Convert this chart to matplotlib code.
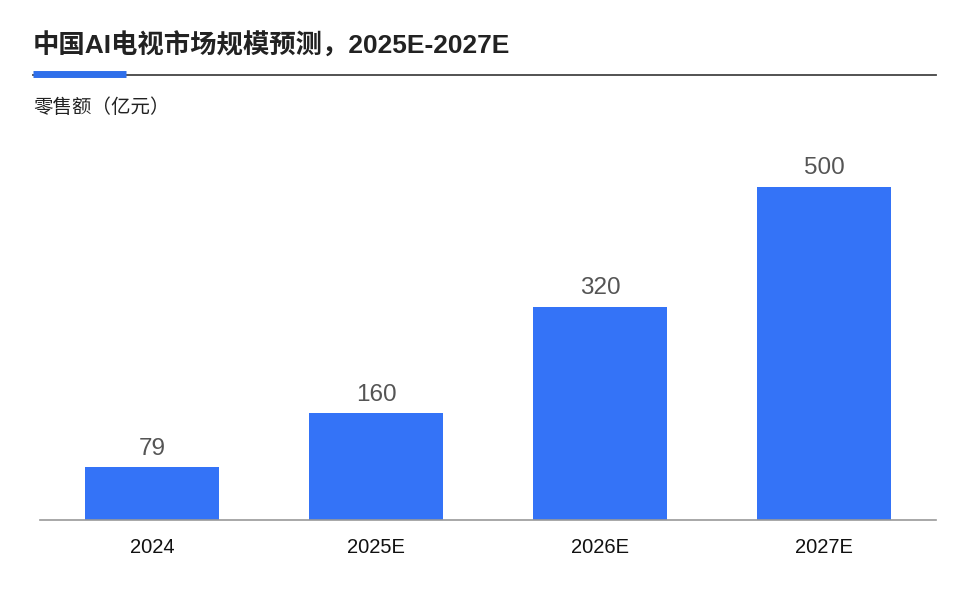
import matplotlib
matplotlib.use("Agg")
import matplotlib.pyplot as plt
from matplotlib.lines import Line2D

years = ['2024', '2025E', '2026E', '2027E']
sales = [79, 160, 320, 500]

title = '中国AI电视市场规模预测，2025E-2027E'
unit_label = '零售额（亿元）'

plt.rcParams['font.family'] = ['Liberation Sans', 'Noto Sans CJK SC', 'DejaVu Sans']

fig = plt.figure(figsize=(9.65, 5.99), dpi=100)
W, H = 965, 599

ax = fig.add_axes([40 / W, (H - 520) / H, 896 / W, 380 / H])
x = range(len(years))
bars = ax.bar(x, sales, width=0.6, color='#3473F7', zorder=2)
ax.set_xlim(-0.5, len(years) - 0.5)
ax.set_ylim(0, 570)

for b, v in zip(bars, sales):
    ax.annotate(str(v), (b.get_x() + b.get_width() / 2, v),
                xytext=(0, 5.5), textcoords='offset points',
                ha='center', va='bottom', fontsize=17.5, color='#555555')

ax.set_xticks(list(x))
ax.set_xticklabels(years, fontsize=14.5, color='#111111')
ax.tick_params(axis='x', length=0, pad=13)
ax.set_yticks([])
for s in ['top', 'left', 'right']:
    ax.spines[s].set_visible(False)
ax.spines['bottom'].set_color('#999999')
ax.spines['bottom'].set_linewidth(1.2)

fig.text(33 / W, 1 - 46 / H, title, fontsize=19, fontweight='bold',
         color='#222222', va='center', ha='left',
         family=['Liberation Sans', 'Noto Sans CJK SC', 'DejaVu Sans'])
fig.add_artist(Line2D([33 / W, 936 / W], [1 - 74.5 / H] * 2,
                      color='#444444', linewidth=1.3))
fig.add_artist(Line2D([33 / W, 126 / W], [1 - 73.5 / H] * 2,
                      color='#2F6FEA', linewidth=5, solid_capstyle='butt'))
fig.text(33 / W, 1 - 108 / H, unit_label, fontsize=14, color='#222222',
         va='center', ha='left', family=['Noto Sans CJK SC', 'DejaVu Sans'])

fig.savefig('out.png', dpi=100, facecolor='white')
